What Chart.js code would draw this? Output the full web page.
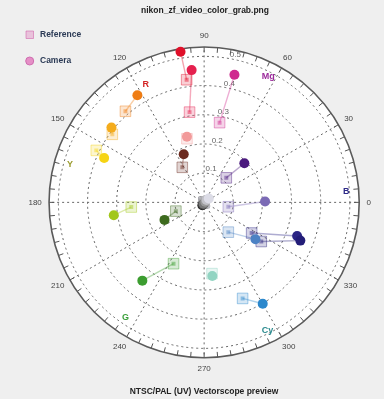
<!DOCTYPE html>
<html>
<head>
<meta charset="utf-8">
<script src="https://cdn.jsdelivr.net/npm/chart.js@4/dist/chart.umd.min.js"></script>
<style>
  html, body { margin: 0; padding: 0; background: #efefef; }
  #wrap { width: 384px; height: 399px; }
</style>
</head>
<body>
<div id="wrap"><canvas id="scope" width="384" height="399"></canvas></div>
<script>
// ColorChecker patches on the U/V plane
const patchNames = ['Dark skin','Light skin','Blue sky','Foliage','Blue flower','Bluish green',
  'Orange','Purplish blue','Moderate red','Purple','Yellow green','Orange yellow',
  'Blue','Green','Red','Yellow','Magenta','Cyan',
  'Black','Neutral 3.5','Neutral 5','Neutral 6.5','Neutral 8','White'];

// measured camera values
const cameraU = [-0.070,-0.059, 0.176,-0.136, 0.209, 0.028,
                 -0.229, 0.319,-0.043, 0.138,-0.310,-0.318,
                  0.330,-0.212,-0.081,-0.343, 0.104, 0.201,
                 -0.006,-0.004,-0.002, 0.004, 0.008, 0.016];
const cameraV = [ 0.165, 0.225,-0.126,-0.060, 0.003,-0.252,
                  0.367,-0.115, 0.453, 0.134,-0.044, 0.256,
                 -0.131,-0.268, 0.516, 0.152, 0.437,-0.347,
                 -0.010,-0.008,-0.005, 0.002, 0.008, 0.013];

// reference targets
const refU = [-0.075,-0.059, 0.083,-0.097, 0.083, 0.027,
              -0.270, 0.163,-0.050, 0.076,-0.250,-0.315,
               0.196,-0.105,-0.060,-0.370, 0.053, 0.132,
               0, 0, 0, 0, 0, 0];
const refV = [ 0.120, 0.218,-0.102,-0.030,-0.015,-0.244,
               0.312,-0.105, 0.309, 0.084,-0.016, 0.233,
              -0.134,-0.210, 0.420, 0.178, 0.273,-0.329,
               0, 0, 0, 0, 0, 0];

const patchColors = ['#6b2a1f','#f29a9a','#4c82c4','#3e6b1f','#7b6ab5','#92d4c2',
  '#ef7d14','#2b2585','#e5204e','#4b1a7e','#a2c71b','#f4ac1d',
  '#231d78','#3c9d30','#e0102a','#f6d414','#cf2a8f','#2c88cc',
  '#1a1a1a','#444444','#777777','#9a9a9a','#c2c2c8','#dcdce6'];

// graticule
const ringValues = [0.1, 0.2, 0.3, 0.4, 0.5];
const spokeAngles = [0, 30, 60, 90, 120, 150, 180, 210, 240, 270, 300, 330];
const angleLabels = ['0','30','60','90','120','150','180','210','240','270','300','330'];

// colour target markers (hue in degrees, chroma)
const targetNames = ['R', 'Mg', 'B', 'Cy', 'G', 'Y'];
const targetHue = [116.3, 63.0, 4.2, 296.3, 235.7, 164.3];
const targetChroma = [0.452, 0.485, 0.489, 0.491, 0.479, 0.478];
const targetColors = ['#d42424', '#9b2a9b', '#2e2a88', '#2a8a8e', '#3aa03a', '#9a9a2a'];

const titleText = 'nikon_zf_video_color_grab.png';
const footerText = 'NTSC/PAL (UV) Vectorscope preview';

function rgba(hex, a) {
  const n = parseInt(hex.slice(1), 16);
  return `rgba(${(n >> 16) & 255},${(n >> 8) & 255},${n & 255},${a})`;
}

const OUTER = 0.532;

const datasets = [];
// connectors from reference to camera (neutrals sit on the origin, no connector)
patchNames.forEach((name, i) => {
  if (refU[i] === 0 && refV[i] === 0) return;
  datasets.push({
    type: 'line',
    label: name + ' link',
    data: [{x: refU[i], y: refV[i]}, {x: cameraU[i], y: cameraV[i]}],
    borderColor: rgba(patchColors[i], 0.38),
    borderWidth: 1.4,
    pointRadius: 0,
    fill: false,
    order: 4
  });
});
datasets.push({
  label: 'Reference',
  data: refU.map((u, i) => ({x: u, y: refV[i]})),
  pointStyle: 'rect',
  pointRadius: 7.5,
  backgroundColor: patchColors.map(c => rgba(c, 0.2)),
  borderColor: patchColors.map(c => rgba(c, 0.42)),
  borderWidth: 1,
  order: 3
});
datasets.push({
  label: 'Reference core',
  data: refU.map((u, i) => ({x: u, y: refV[i]})),
  pointStyle: 'rect',
  pointRadius: 2.8,
  backgroundColor: patchColors.map(c => rgba(c, 0.45)),
  borderWidth: 0,
  order: 2
});
datasets.push({
  label: 'Camera',
  data: cameraU.map((u, i) => ({x: u, y: cameraV[i]})),
  pointStyle: 'circle',
  pointRadius: 5,
  backgroundColor: patchColors,
  borderColor: patchColors,
  borderWidth: 0,
  order: 1
});

const graticule = {
  id: 'graticule',
  beforeDatasetsDraw(chart) {
    const {ctx, scales: {x, y}} = chart;
    const cx = x.getPixelForValue(0), cy = y.getPixelForValue(0);
    const px = v => x.getPixelForValue(v) - cx;
    const py = v => cy - y.getPixelForValue(v);
    const pt = (deg, r) => {
      const a = deg * Math.PI / 180;
      return [x.getPixelForValue(r * Math.cos(a)), y.getPixelForValue(r * Math.sin(a))];
    };
    ctx.save();
    ctx.fillStyle = '#efefef';
    ctx.fillRect(0, 0, chart.width, chart.height);
    // scope disc
    ctx.beginPath();
    ctx.ellipse(cx, cy, px(OUTER), py(OUTER), 0, 0, Math.PI * 2);
    ctx.fillStyle = '#ffffff';
    ctx.fill();
    // dashed rings
    ctx.setLineDash([2, 3]);
    ctx.strokeStyle = '#666';
    ctx.lineWidth = 1;
    ringValues.forEach(r => {
      ctx.beginPath();
      ctx.ellipse(cx, cy, px(r), py(r), 0, 0, Math.PI * 2);
      ctx.stroke();
    });
    // dashed spokes
    spokeAngles.forEach(deg => {
      const [ex, ey] = pt(deg, OUTER);
      ctx.beginPath();
      ctx.moveTo(cx, cy);
      ctx.lineTo(ex, ey);
      ctx.stroke();
    });
    ctx.setLineDash([]);
    // tick band
    ctx.strokeStyle = '#555';
    ctx.lineWidth = 1;
    for (let deg = 0; deg < 360; deg += 5) {
      const [ax, ay] = pt(deg, OUTER);
      const [bx, by] = pt(deg, OUTER - 0.018);
      ctx.beginPath();
      ctx.moveTo(ax, ay);
      ctx.lineTo(bx, by);
      ctx.stroke();
    }
    ctx.lineWidth = 1.6;
    ctx.strokeStyle = '#5a5a5a';
    ctx.beginPath();
    ctx.ellipse(cx, cy, px(OUTER), py(OUTER), 0, 0, Math.PI * 2);
    ctx.stroke();
    // ring labels
    ctx.font = '8px "Liberation Sans", Arial, sans-serif';
    ctx.fillStyle = '#666';
    ctx.textAlign = 'center';
    ctx.textBaseline = 'middle';
    ringValues.forEach(r => {
      const [lx, ly] = pt(78, r + 0.016);
      ctx.fillText(r.toFixed(1), lx, ly);
    });
    // angle labels
    ctx.fillStyle = '#444';
    spokeAngles.forEach((deg, i) => {
      const a = deg * Math.PI / 180;
      const w = ctx.measureText(angleLabels[i]).width;
      const [lx, ly] = pt(deg, 0.557);
      ctx.fillText(angleLabels[i], lx + Math.cos(a) * w / 2, ly - Math.sin(a) * 4);
    });
    // colour targets
    ctx.font = 'bold 9px "Liberation Sans", Arial, sans-serif';
    targetNames.forEach((t, i) => {
      const [lx, ly] = pt(targetHue[i], targetChroma[i]);
      ctx.fillStyle = targetColors[i];
      ctx.fillText(t, lx, ly);
    });
    ctx.restore();
  },
  afterDraw(chart) {
    const {ctx} = chart;
    ctx.save();
    ctx.font = 'bold 8.5px "Liberation Sans", Arial, sans-serif';
    ctx.textAlign = 'center';
    ctx.textBaseline = 'middle';
    ctx.fillStyle = '#222';
    ctx.fillText(titleText, 205, 11);
    ctx.fillText(footerText, 204, 392);
    // legend
    ctx.beginPath();
    ctx.rect(26, 31, 7.5, 7.5);
    ctx.fillStyle = rgba('#e27fbf', 0.4);
    ctx.fill();
    ctx.lineWidth = 1;
    ctx.strokeStyle = rgba('#d060a8', 0.55);
    ctx.stroke();
    ctx.beginPath();
    ctx.arc(29.7, 61, 4, 0, Math.PI * 2);
    ctx.closePath();
    ctx.fillStyle = '#e58fc6';
    ctx.fill();
    ctx.strokeStyle = '#cf6eb0';
    ctx.stroke();
    ctx.textAlign = 'left';
    ctx.fillStyle = '#2b3a55';
    ctx.fillText('Reference', 40, 35);
    ctx.fillText('Camera', 40, 61);
    ctx.restore();
  }
};

new Chart(document.getElementById('scope'), {
  type: 'scatter',
  data: {datasets},
  options: {
    responsive: false,
    devicePixelRatio: 1,
    animation: false,
    events: [],
    layout: {padding: 0},
    plugins: {legend: {display: false}, tooltip: {enabled: false}, title: {display: false}},
    scales: {
      x: {type: 'linear', min: -0.67115, max: 0.58787, display: false},
      y: {type: 'linear', min: -0.64426, max: 0.66393, display: false}
    }
  },
  plugins: [graticule]
});
</script>
</body>
</html>
